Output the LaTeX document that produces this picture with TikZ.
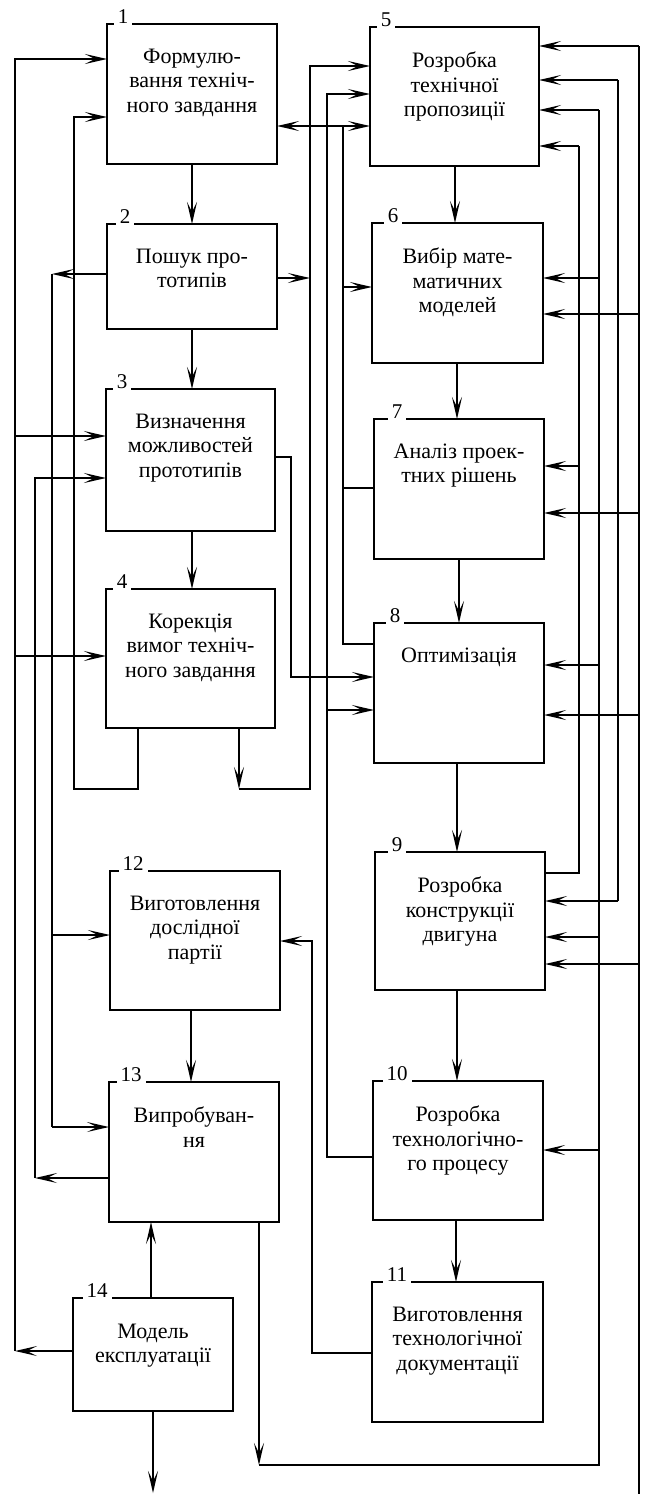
\documentclass[tikz,border=0pt]{standalone}
\usepackage{fontspec}
\setmainfont{Liberation Serif}
\usetikzlibrary{arrows.meta,calc}
\begin{document}
\begin{tikzpicture}[x=1pt,y=-1pt,
  line width=1.8pt,
  box/.style={draw, rectangle, anchor=north west, inner sep=0pt, outer sep=0pt},
  txt/.style={anchor=north, align=center, inner sep=0pt, font=\fontsize{22}{24.5}\selectfont},
  num/.style={anchor=south, fill=white, inner xsep=4pt, inner ysep=1pt, font=\fontsize{21}{21}\selectfont},
  arr/.style={-{Stealth[length=22pt,width=10pt,inset=10pt]}},
  arrb/.style={{Stealth[length=22pt,width=10pt,inset=10pt]}-{Stealth[length=22pt,width=10pt,inset=10pt]}}
]
\useasboundingbox (0,0) rectangle (645,1494);
% boxes
\node[box, minimum width=170pt, minimum height=140pt] (b1) at (107,24) {};
\node[box, minimum width=170pt, minimum height=105pt] (b2) at (107,224) {};
\node[box, minimum width=169pt, minimum height=142pt] (b3) at (106,389) {};
\node[box, minimum width=169pt, minimum height=139pt] (b4) at (106,589) {};
\node[box, minimum width=169pt, minimum height=139pt] (b5) at (370,27) {};
\node[box, minimum width=171pt, minimum height=140pt] (b6) at (372,223) {};
\node[box, minimum width=170pt, minimum height=140pt] (b7) at (374,419) {};
\node[box, minimum width=170pt, minimum height=140pt] (b8) at (374,623) {};
\node[box, minimum width=170pt, minimum height=138pt] (b9) at (375,852) {};
\node[box, minimum width=170pt, minimum height=139pt] (b10) at (373,1081) {};
\node[box, minimum width=171pt, minimum height=140pt] (b11) at (372,1282) {};
\node[box, minimum width=170pt, minimum height=139pt] (b12) at (110,871) {};
\node[box, minimum width=170pt, minimum height=140pt] (b13) at (109,1082) {};
\node[box, minimum width=160pt, minimum height=113pt] (b14) at (73,1298) {};
% texts
\node[txt] (t1) at (b1.north |- 0,48) {Формулю-\\вання техніч-\\ного завдання};
\node[txt] (t2) at (b2.north |- 0,248) {Пошук про-\\тотипів};
\node[txt] (t3) at (b3.north |- 0,413) {Визначення\\можливостей\\прототипів};
\node[txt] (t4) at (b4.north |- 0,613) {Корекція\\вимог техніч-\\ного завдання};
\node[txt] (t5) at (b5.north |- 0,51) {Розробка\\технічної\\пропозиції};
\node[txt] (t6) at (b6.north |- 0,247) {Вибір мате-\\матичних\\моделей};
\node[txt] (t7) at (b7.north |- 0,443) {Аналіз проек-\\тних рішень};
\node[txt] (t8) at (b8.north |- 0,647) {Оптимізація};
\node[txt] (t9) at (b9.north |- 0,876) {Розробка\\конструкції\\двигуна};
\node[txt] (t10) at (b10.north |- 0,1105) {Розробка\\технологічно-\\го процесу};
\node[txt] (t11) at (b11.north |- 0,1306) {Виготовлення\\технологічної\\документації};
\node[txt] (t12) at (b12.north |- 0,895) {Виготовлення\\дослідної\\партії};
\node[txt] (t13) at (b13.north |- 0,1106) {Випробуван-\\ня};
\node[txt] (t14) at (b14.north |- 0,1323) {Модель\\експлуатації};
% numbers
\node[num] (n1) at (123,25.5) {1};
\node[num] (n2) at (125,225.5) {2};
\node[num] (n3) at (122,390.5) {3};
\node[num] (n4) at (122,590.5) {4};
\node[num] (n5) at (386,28.5) {5};
\node[num] (n6) at (393,224.5) {6};
\node[num] (n7) at (397,420.5) {7};
\node[num] (n8) at (395,624.5) {8};
\node[num] (n9) at (397,853.5) {9};
\node[num] (n10) at (397,1082.5) {10};
\node[num] (n11) at (397,1283.5) {11};
\node[num] (n12) at (133,872.5) {12};
\node[num] (n13) at (131,1083.5) {13};
\node[num] (n14) at (97,1299.5) {14};
% main flow
\draw[arr] (b1.south -| 192,0) -- (b2.north -| 192,0);
\draw[arr] (b2.south -| 192,0) -- (b3.north -| 192,0);
\draw[arr] (b3.south -| 192,0) -- (b4.north -| 192,0);
\draw[arr] (b5.south -| 455,0) -- (b6.north -| 455,0);
\draw[arr] (b6.south -| 457,0) -- (b7.north -| 457,0);
\draw[arr] (b7.south -| 459,0) -- (b8.north -| 459,0);
\draw[arr] (b8.south -| 457,0) -- (b9.north -| 457,0);
\draw[arr] (b9.south -| 457,0) -- (b10.north -| 457,0);
\draw[arr] (b10.south -| 456,0) -- (b11.north -| 456,0);
\draw[arr] (b12.south -| 191,0) -- (b13.north -| 191,0);
\draw[arr] (b14.north -| 151,0) -- (b13.south -| 151,0);
\coordinate (out14) at (153,1493);
\draw[arr] (b14.south -| 153,0) -- (out14);
% left buses
\coordinate (c15) at (15,1351);
\draw[arr] (b14.west |- 0,1351) -- (c15);
\draw[arr] (c15) |- (b1.west |- 0,59);
\draw[arr] (c15 |- 0,436) -- (b3.west |- 0,436);
\draw[arr] (c15 |- 0,656) -- (b4.west |- 0,656);
\coordinate (c74) at (74,789);
\draw[arr] (b4.south -| 138,0) |- (c74) |- (b1.west |- 0,117);
\coordinate (c52) at (52,274);
\draw[arr] (b2.west |- c52) -- (c52);
\draw (c52) -- (52,1127);
\draw[arr] (c52 |- 0,935) -- (b12.west |- 0,935);
\draw[arr] (c52 |- 0,1127) -- (b13.west |- 0,1127);
\coordinate (c35) at (35,1178);
\draw[arr] (b13.west |- c35) -- (c35);
\draw[arr] (c35) |- (b3.west |- 0,478);
% middle buses
\coordinate (c291) at (291,457);
\draw[arr] (b3.east |- c291) -- (c291) |- (b8.west |- 0,677);
\coordinate (c239) at (239,789);
\draw[arr] (b4.south -| c239) -- (c239);
\draw[arr] (c239) -| (310,66) -- (b5.west |- 0,66);
\coordinate (c310) at (310,278);
\draw[arr] (b2.east |- c310) -- (c310);
\coordinate (c327) at (327,1157);
\draw[arr] (b10.west |- c327) -- (c327) |- (b5.west |- 0,94);
\draw[arr] (c327 |- 0,710) -- (b8.west |- 0,710);
\coordinate (c343) at (343,126);
\draw[arrb] (b1.east |- c343) -- (b5.west |- c343);
\draw (c343) |- (b8.west |- 0,644);
\draw (c343 |- 0,488) -- (b7.west |- 0,488);
\draw[arr] (c343 |- 0,287) -- (b6.west |- 0,287);
\coordinate (c312) at (312,1353);
\draw[arr] (b11.west |- c312) -- (c312) |- (b12.east |- 0,941);
% right buses
\coordinate (c579) at (579,873);
\draw (b9.east |- c579) -- (c579) -- (579,146);
\draw[arr] (579,146) -- (b5.east |- 0,146);
\draw[arr] (579,466) -- (b7.east |- 0,466);
\coordinate (c259) at (259,1465);
\draw[arr] (b13.south -| c259) -- (c259);
\draw (c259) -| (599,110);
\draw[arr] (599,110) -- (b5.east |- 0,110);
\draw[arr] (599,278) -- (b6.east |- 0,278);
\draw[arr] (599,665) -- (b8.east |- 0,665);
\draw[arr] (599,937) -- (b9.east |- 0,937);
\draw[arr] (599,1150) -- (b10.east |- 0,1150);
\draw (618,80) -- (618,901);
\draw[arr] (618,80) -- (b5.east |- 0,80);
\draw[arr] (618,901) -- (b9.east |- 0,901);
\coordinate (c639) at (639,1494);
\draw (639,46) -- (c639);
\draw[arr] (639,46) -- (b5.east |- 0,46);
\draw[arr] (639,314) -- (b6.east |- 0,314);
\draw[arr] (639,513) -- (b7.east |- 0,513);
\draw[arr] (639,715) -- (b8.east |- 0,715);
\draw[arr] (639,964) -- (b9.east |- 0,964);
\end{tikzpicture}
\end{document}
